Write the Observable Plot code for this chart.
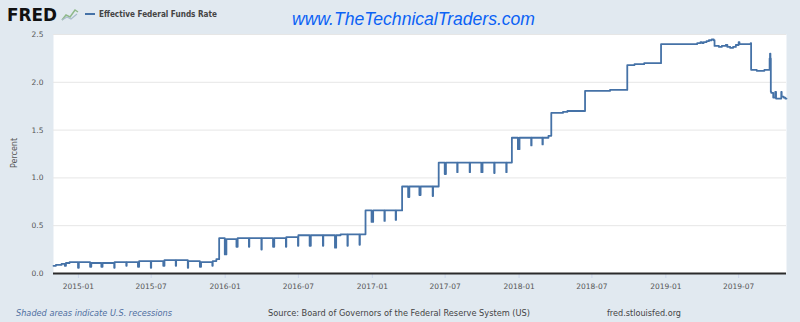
<!DOCTYPE html>
<html>
<head>
<meta charset="utf-8">
<script src="https://cdn.jsdelivr.net/npm/d3@7"></script>
<script src="https://cdn.jsdelivr.net/npm/@observablehq/plot@0.6"></script>
<style>
  html, body { margin: 0; padding: 0; background: #e1e9f0; }
  #chart { width: 800px; height: 322px; }
</style>
</head>
<body>
<div id="chart"></div>
<script>
// Effective Federal Funds Rate, change points: [date, percent]
const effr2014 = [
  ["2014-10-31", 0.08], ["2014-11-06", 0.09], ["2014-11-20", 0.10],
  ["2014-11-28", 0.08], ["2014-12-01", 0.11], ["2014-12-10", 0.12],
  ["2014-12-31", 0.06]
];
const effr2015 = [
  ["2015-01-02", 0.12],
  ["2015-01-30", 0.07], ["2015-02-02", 0.11],
  ["2015-02-27", 0.07], ["2015-03-02", 0.11],
  ["2015-03-31", 0.06], ["2015-04-01", 0.12],
  ["2015-04-30", 0.08], ["2015-05-01", 0.12],
  ["2015-05-29", 0.07], ["2015-06-01", 0.13],
  ["2015-06-30", 0.06], ["2015-07-01", 0.13],
  ["2015-07-31", 0.08], ["2015-08-03", 0.14],
  ["2015-08-31", 0.08], ["2015-09-01", 0.14],
  ["2015-09-30", 0.06], ["2015-10-01", 0.13],
  ["2015-10-30", 0.07], ["2015-11-02", 0.12],
  ["2015-11-30", 0.08], ["2015-12-01", 0.13],
  ["2015-12-10", 0.15],
  ["2015-12-17", 0.37],
  ["2015-12-31", 0.20]
];
const effr2016 = [
  ["2016-01-04", 0.36],
  ["2016-01-29", 0.28], ["2016-02-01", 0.37],
  ["2016-02-29", 0.28], ["2016-03-01", 0.37],
  ["2016-03-31", 0.25], ["2016-04-01", 0.37],
  ["2016-04-29", 0.28], ["2016-05-02", 0.37],
  ["2016-05-31", 0.28], ["2016-06-01", 0.38],
  ["2016-06-30", 0.29], ["2016-07-01", 0.40],
  ["2016-07-29", 0.29], ["2016-08-01", 0.40],
  ["2016-08-31", 0.29], ["2016-09-01", 0.40],
  ["2016-09-30", 0.27], ["2016-10-03", 0.40],
  ["2016-10-14", 0.41],
  ["2016-10-31", 0.29], ["2016-11-01", 0.41],
  ["2016-11-30", 0.30], ["2016-12-01", 0.41],
  ["2016-12-15", 0.66],
  ["2016-12-30", 0.54]
];
const effr2017 = [
  ["2017-01-03", 0.66],
  ["2017-01-31", 0.55], ["2017-02-01", 0.66],
  ["2017-02-28", 0.56], ["2017-03-01", 0.66],
  ["2017-03-16", 0.91],
  ["2017-03-31", 0.80], ["2017-04-03", 0.91],
  ["2017-04-28", 0.82], ["2017-05-01", 0.91],
  ["2017-05-31", 0.81], ["2017-06-01", 0.91],
  ["2017-06-15", 1.16],
  ["2017-06-30", 1.04], ["2017-07-03", 1.16],
  ["2017-07-31", 1.06], ["2017-08-01", 1.16],
  ["2017-08-31", 1.06], ["2017-09-01", 1.16],
  ["2017-09-29", 1.06], ["2017-10-02", 1.16],
  ["2017-10-31", 1.05], ["2017-11-01", 1.16],
  ["2017-11-30", 1.06], ["2017-12-01", 1.16],
  ["2017-12-14", 1.42],
  ["2017-12-29", 1.30]
];
const effr2018 = [
  ["2018-01-02", 1.42],
  ["2018-01-31", 1.34], ["2018-02-01", 1.42],
  ["2018-02-28", 1.35], ["2018-03-01", 1.42],
  ["2018-03-15", 1.44],
  ["2018-03-22", 1.68],
  ["2018-04-20", 1.69],
  ["2018-05-01", 1.70],
  ["2018-06-14", 1.91],
  ["2018-08-15", 1.92],
  ["2018-09-27", 2.18],
  ["2018-10-15", 2.19],
  ["2018-11-08", 2.20],
  ["2018-12-20", 2.40]
];
const effr2019 = [
  ["2019-01-02", 2.40],
  ["2019-03-20", 2.41],
  ["2019-03-28", 2.42], ["2019-04-01", 2.41],
  ["2019-04-05", 2.42],
  ["2019-04-12", 2.43],
  ["2019-04-18", 2.44],
  ["2019-04-25", 2.45],
  ["2019-04-30", 2.44],
  ["2019-05-02", 2.38],
  ["2019-05-13", 2.37],
  ["2019-05-20", 2.38],
  ["2019-05-30", 2.39], ["2019-06-03", 2.37],
  ["2019-06-10", 2.36],
  ["2019-06-17", 2.37],
  ["2019-06-24", 2.39],
  ["2019-07-01", 2.42],
  ["2019-07-03", 2.40],
  ["2019-07-31", 2.41],
  ["2019-08-01", 2.13],
  ["2019-08-15", 2.12],
  ["2019-09-03", 2.13],
  ["2019-09-16", 2.25],
  ["2019-09-17", 2.30],
  ["2019-09-18", 2.25],
  ["2019-09-19", 1.90],
  ["2019-09-20", 1.89],
  ["2019-09-25", 1.84],
  ["2019-09-30", 1.90],
  ["2019-10-02", 1.83],
  ["2019-10-15", 1.90],
  ["2019-10-16", 1.85],
  ["2019-10-21", 1.84],
  ["2019-10-25", 1.83],
  ["2019-10-28", 1.83]
];

const xDomain = ["2014-10-31", "2019-10-28"];
const xTickLabels = ["2015-01", "2015-07", "2016-01", "2016-07", "2017-01",
                     "2017-07", "2018-01", "2018-07", "2019-01", "2019-07"];
const yTicks = [0, 0.5, 1.0, 1.5, 2.0, 2.5];

const seriesName = "Effective Federal Funds Rate";
const yLabel = "Percent";
const watermark = "www.TheTechnicalTraders.com";
const noteText = "Shaded areas indicate U.S. recessions";
const sourceText = "Source: Board of Governors of the Federal Reserve System (US)";
const siteText = "fred.stlouisfed.org";

const parseDay = d3.utcParse("%Y-%m-%d");
const parseMonth = d3.utcParse("%Y-%m");
const rows = [...effr2014, ...effr2015, ...effr2016, ...effr2017, ...effr2018, ...effr2019]
  .map(([d, v]) => ({date: parseDay(d), rate: v}));

const plot = Plot.plot({
  width: 800,
  height: 322,
  marginLeft: 53,
  marginRight: 14,
  marginTop: 34,
  marginBottom: 49,
  style: {background: "#e1e9f0", fontFamily: "DejaVu Sans", fontSize: "7.5px", color: "#555", overflow: "visible"},
  x: {type: "utc", domain: xDomain.map(parseDay)},
  y: {domain: [0, 2.5]},
  marks: [
    Plot.frame({fill: "white", stroke: null}),
    Plot.ruleY(yTicks.slice(1), {stroke: "#e6e6e6", strokeWidth: 1}),
    Plot.axisY({ticks: yTicks, tickFormat: d3.format(".1f"), tickSize: 0, tickPadding: 10, label: null, fill: "#555"}),
    Plot.axisX({ticks: xTickLabels.map(parseMonth), tickFormat: d3.utcFormat("%Y-%m"), tickSize: 5, tickPadding: 5, label: null, stroke: "#ccd6eb", fill: "#555"}),
    Plot.line(rows, {x: "date", y: "rate", curve: "step-after", stroke: "#4572a7", strokeWidth: 1.8}),
    Plot.ruleY([0], {stroke: "#2b2b2b", strokeWidth: 2})
  ]
});

document.getElementById("chart").appendChild(plot);

// header, watermark, y-label and footer as SVG text
const svg = d3.select(plot);
function addText(str, x, y, opts) {
  const t = svg.append("text").attr("x", x).attr("y", y).text(str)
    .attr("font-family", opts.family || "DejaVu Sans")
    .attr("font-size", opts.size)
    .attr("fill", opts.fill || "#333")
    .attr("text-anchor", opts.anchor || "start");
  if (opts.weight) t.attr("font-weight", opts.weight);
  if (opts.style) t.attr("font-style", opts.style);
  if (opts.len) t.attr("textLength", opts.len).attr("lengthAdjust", "spacingAndGlyphs");
  if (opts.transform) t.attr("transform", opts.transform);
  return t;
}
addText("FRED", 7, 21, {size: 18, weight: "bold", fill: "#111", len: 50});
// small logo graph
const logo = svg.append("g");
logo.append("path").attr("d", "M62,20 L66,15 L70,17 L75,10 L78,12").attr("fill", "none").attr("stroke", "#8fb98a").attr("stroke-width", 1.5);
logo.append("path").attr("d", "M62,20 L67,17 L71,19 L77,14").attr("fill", "none").attr("stroke", "#a9bccc").attr("stroke-width", 1.2);
svg.append("line").attr("x1", 85).attr("x2", 95).attr("y1", 14).attr("y2", 14).attr("stroke", "#4572a7").attr("stroke-width", 2);
addText(seriesName, 99, 17, {size: 9.5, weight: "bold", fill: "#444", len: 118});
addText(watermark, 292, 25, {family: "Liberation Sans", size: 17.5, style: "italic", fill: "#0b62f5", len: 243});
addText(yLabel, 0, 0, {size: 8, fill: "#555", anchor: "middle", transform: "translate(17,153) rotate(-90)"});
addText(noteText, 16, 316, {size: 8.2, style: "italic", fill: "#4f6fa0", len: 156});
addText(sourceText, 268, 316, {size: 8.2, fill: "#444", len: 262});
addText(siteText, 607, 316, {size: 8.2, fill: "#444", len: 74});
</script>
</body>
</html>
